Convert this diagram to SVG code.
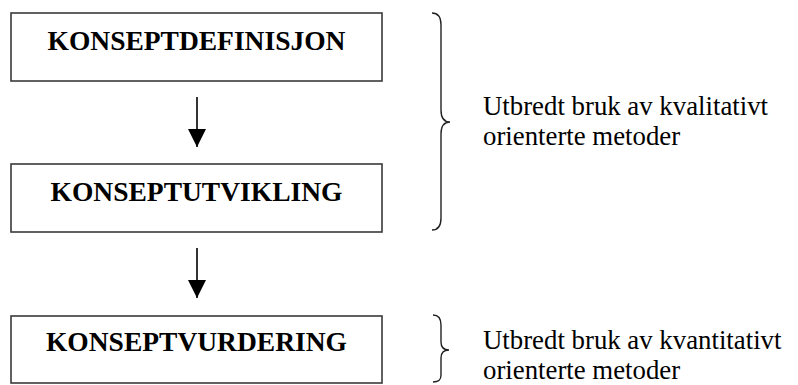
<svg xmlns="http://www.w3.org/2000/svg" width="798" height="385" viewBox="0 0 798 385">
  <style>
    .box { fill: #ffffff; stroke: #3a3a3a; stroke-width: 1.6; }
    .title { font-family: "Liberation Serif", "Times New Roman", serif; font-weight: bold; font-size: 27.5px; fill: #000; text-anchor: middle; }
    .note { font-family: "Liberation Serif", "Times New Roman", serif; font-size: 26.8px; fill: #000; }
    .link { stroke: #000; stroke-width: 1.6; fill: none; }
    .brace { stroke: #222; stroke-width: 1.4; fill: none; }
  </style>
  <defs>
    <marker id="arrowhead" markerUnits="userSpaceOnUse" markerWidth="20" markerHeight="18" refX="18" refY="9" orient="auto">
      <path d="M0,0 L18,9 L0,18 Z" fill="#000"/>
    </marker>
  </defs>
  <rect width="798" height="385" fill="#ffffff"/>

  <g id="node-definisjon">
    <rect class="box" x="11" y="13" width="371" height="68"/>
    <text class="title" x="196.5" y="50">KONSEPTDEFINISJON</text>
  </g>
  <g id="node-utvikling">
    <rect class="box" x="11" y="164" width="371" height="68"/>
    <text class="title" x="196.5" y="200.5">KONSEPTUTVIKLING</text>
  </g>
  <g id="node-vurdering">
    <rect class="box" x="11" y="316" width="371" height="67"/>
    <text class="title" x="196.5" y="350.5">KONSEPTVURDERING</text>
  </g>

  <g id="connectors">
    <line class="link" x1="197" y1="97" x2="197" y2="147" marker-end="url(#arrowhead)"/>
    <line class="link" x1="197" y1="248" x2="197" y2="298" marker-end="url(#arrowhead)"/>
  </g>

  <g id="note-kvalitativ">
    <path class="brace" d="M432,13 C438,13 441,17 441,25 L441,110 C441,118 444,122 450,122 C444,122 441,126 441,134 L441,218 C441,226 438,230 432,230"/>
    <text class="note" x="483" y="115">Utbredt bruk av kvalitativt</text>
    <text class="note" x="483" y="145">orienterte metoder</text>
  </g>
  <g id="note-kvantitativ">
    <path class="brace" d="M433,315 C439,315 441,319 441,325 L441,342 C441,347 444,350 449,350 C444,350 441,353 441,358 L441,375 C441,380 439,382 433,382"/>
    <text class="note" x="483" y="349">Utbredt bruk av kvantitativt</text>
    <text class="note" x="483" y="379">orienterte metoder</text>
  </g>
</svg>
